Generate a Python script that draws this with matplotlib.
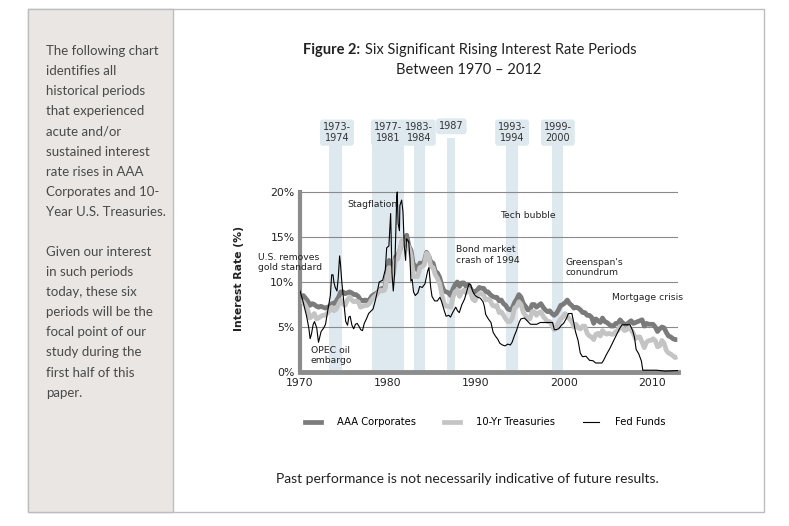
import matplotlib

matplotlib.use("Agg")
import matplotlib.pyplot as plt
import numpy as np
from matplotlib.lines import Line2D
from matplotlib.patches import Rectangle

W, H = 789, 526

# quarterly values, 1970 Q1 .. 2012 Q4, one row per year
aaa_quarterly = [
    [8.3, 8.5, 8.2, 7.9], [7.4, 7.6, 7.5, 7.3], [7.2, 7.3, 7.2, 7.1], [7.2, 7.3, 7.6, 7.6],
    [7.9, 8.3, 8.9, 8.9], [8.7, 8.8, 8.9, 8.8], [8.6, 8.6, 8.4, 8.0], [7.9, 8.0, 7.9, 8.0],
    [8.4, 8.6, 8.7, 8.9], [9.2, 9.3, 9.3, 10.7], [12.4, 11.0, 11.6, 12.8], [13.0, 13.6, 14.6, 14.6],
    [15.2, 14.0, 13.5, 11.9], [11.8, 11.3, 12.1, 12.0], [12.3, 13.3, 12.9, 12.2], [12.1, 11.2, 11.0, 10.5],
    [9.6, 9.0, 8.9, 8.8], [8.5, 9.2, 9.7, 10.0], [9.5, 9.9, 9.9, 9.5], [9.7, 9.3, 8.9, 8.9],
    [9.1, 9.4, 9.3, 9.3], [8.9, 8.9, 8.6, 8.4], [8.3, 8.3, 7.9, 8.0], [7.6, 7.4, 7.0, 6.9],
    [7.1, 7.7, 8.1, 8.6], [8.3, 7.6, 7.3, 6.9], [6.9, 7.5, 7.5, 7.2], [7.4, 7.6, 7.2, 6.9],
    [6.7, 6.8, 6.5, 6.3], [6.5, 6.9, 7.4, 7.5], [7.7, 8.0, 7.6, 7.4], [7.1, 7.2, 7.1, 6.9],
    [6.6, 6.6, 6.3, 6.3], [6.1, 5.4, 5.9, 5.7], [5.5, 6.0, 5.6, 5.5], [5.3, 5.1, 5.1, 5.4],
    [5.4, 5.8, 5.5, 5.3], [5.3, 5.5, 5.7, 5.4], [5.5, 5.6, 5.7, 5.8], [5.1, 5.4, 5.3, 5.3],
    [5.3, 5.0, 4.5, 4.8], [5.0, 4.9, 4.4, 4.0], [3.9, 3.7, 3.6, 3.6],
]
tsy10_quarterly = [
    [7.8, 7.8, 7.4, 6.9], [6.0, 6.2, 6.5, 5.9], [6.0, 6.2, 6.3, 6.3], [6.6, 6.8, 7.2, 6.8],
    [7.0, 7.5, 8.0, 7.6], [7.4, 8.0, 8.3, 8.0], [7.8, 7.9, 7.8, 7.2], [7.3, 7.4, 7.4, 7.6],
    [8.0, 8.3, 8.5, 8.8], [9.1, 9.0, 9.1, 10.4], [11.6, 10.2, 10.9, 12.5], [12.6, 13.7, 14.7, 14.1],
    [14.2, 13.9, 12.9, 10.6], [10.6, 10.6, 11.6, 11.7], [11.9, 13.2, 12.9, 11.7], [11.6, 10.8, 10.4, 9.8],
    [8.6, 7.6, 7.3, 7.3], [7.2, 8.3, 8.9, 9.1], [8.4, 8.9, 9.1, 8.8], [9.2, 8.9, 8.1, 7.9],
    [8.4, 8.7, 8.7, 8.5], [8.0, 8.1, 7.9, 7.4], [7.3, 7.4, 6.6, 6.7], [6.3, 5.9, 5.6, 5.6],
    [6.0, 7.1, 7.3, 7.8], [7.5, 6.6, 6.3, 5.9], [5.9, 6.7, 6.7, 6.3], [6.6, 6.7, 6.2, 5.9],
    [5.6, 5.6, 5.2, 4.7], [5.0, 5.5, 5.9, 6.1], [6.5, 6.2, 5.9, 5.6], [5.0, 5.3, 4.9, 4.8],
    [5.1, 5.1, 4.3, 4.0], [3.9, 3.6, 4.2, 4.3], [4.0, 4.6, 4.3, 4.2], [4.3, 4.2, 4.2, 4.5],
    [4.6, 5.1, 4.9, 4.6], [4.7, 4.9, 4.7, 4.3], [3.7, 3.9, 3.9, 3.3], [2.7, 3.3, 3.5, 3.5],
    [3.7, 3.5, 2.8, 2.9], [3.5, 3.2, 2.4, 2.1], [2.0, 1.8, 1.6, 1.7],
]

# fed funds, irregular dates (year fraction) and rates
ff_dates = [
    1970.0, 1970.3, 1970.5, 1970.75, 1971.0, 1971.15, 1971.3, 1971.5, 1971.65, 1971.9,
    1972.1, 1972.4, 1972.7, 1972.9, 1973.2, 1973.45, 1973.6, 1973.75, 1973.85, 1974.0,
    1974.2, 1974.35, 1974.5, 1974.6, 1974.75, 1974.9, 1975.05, 1975.2, 1975.4, 1975.55,
    1975.7, 1975.9, 1976.1, 1976.3, 1976.5, 1976.75, 1976.9, 1977.1, 1977.3, 1977.55,
    1977.8, 1978.0, 1978.3, 1978.55, 1978.8, 1979.0, 1979.4, 1979.7, 1979.85, 1980.1,
    1980.3, 1980.45, 1980.6, 1980.75, 1980.9, 1981.0, 1981.05, 1981.15, 1981.3, 1981.35,
    1981.55, 1981.7, 1981.85, 1982.0, 1982.1, 1982.35, 1982.5, 1982.6, 1982.75, 1982.9,
    1983.1, 1983.4, 1983.6, 1983.9, 1984.2, 1984.5, 1984.65, 1984.85, 1985.0, 1985.3,
    1985.6, 1985.9, 1986.1, 1986.4, 1986.6, 1986.9, 1987.1, 1987.4, 1987.7, 1987.9,
    1988.1, 1988.4, 1988.7, 1988.9, 1989.2, 1989.4, 1989.6, 1989.9, 1990.2, 1990.5,
    1990.8, 1990.95, 1991.1, 1991.4, 1991.7, 1991.95, 1992.2, 1992.5, 1992.7, 1993.0,
    1993.3, 1993.6, 1993.9, 1994.1, 1994.35, 1994.6, 1994.9, 1995.1, 1995.5, 1995.9,
    1996.2, 1996.6, 1996.9, 1997.3, 1997.8, 1998.3, 1998.7, 1998.9, 1999.1, 1999.4,
    1999.7, 1999.95, 2000.3, 2000.5, 2000.9, 2001.1, 2001.3, 2001.6, 2001.85, 2002.1,
    2002.5, 2002.9, 2003.3, 2003.6, 2004.3, 2004.5, 2004.8, 2005.2, 2005.6, 2005.9,
    2006.3, 2006.6, 2007.5, 2007.8, 2008.0, 2008.2, 2008.5, 2008.8, 2008.95, 2009.5,
    2010.5, 2011.5, 2012.9,
]
ff_rates = [
    9.0, 8.0, 7.2, 6.2, 4.9, 3.7, 4.2, 5.3, 5.6, 4.9,
    3.3, 4.5, 4.9, 5.3, 7.1, 8.5, 10.8, 10.8, 10.0, 9.4,
    9.0, 10.5, 12.9, 12.0, 10.0, 8.5, 7.1, 5.6, 5.2, 6.1,
    6.2, 5.2, 4.8, 5.3, 5.4, 5.0, 4.7, 4.6, 5.4, 5.9,
    6.5, 6.7, 7.0, 7.9, 9.0, 10.0, 10.2, 11.4, 13.8, 14.0,
    17.6, 11.0, 9.0, 10.9, 15.9, 19.5, 20.0, 16.5, 15.7, 18.5,
    19.1, 17.8, 14.0, 12.4, 14.8, 14.5, 12.6, 10.1, 10.3, 8.9,
    8.5, 8.8, 9.5, 9.4, 9.8, 11.2, 11.6, 9.4, 8.4, 7.9,
    7.9, 8.3, 7.8, 6.8, 6.2, 6.3, 6.1, 6.7, 7.2, 6.8,
    6.6, 7.5, 8.1, 8.8, 9.8, 9.7, 9.0, 8.5, 8.3, 8.2,
    7.8, 7.3, 6.4, 5.9, 5.5, 4.4, 4.0, 3.6, 3.2, 3.0,
    2.9, 3.1, 3.0, 3.3, 4.0, 4.6, 5.5, 5.9, 6.0, 5.6,
    5.3, 5.3, 5.3, 5.5, 5.5, 5.5, 5.5, 4.7, 4.7, 4.8,
    5.2, 5.4, 6.0, 6.5, 6.5, 5.5, 4.5, 3.5, 2.1, 1.7,
    1.75, 1.3, 1.25, 1.0, 1.0, 1.3, 1.9, 2.6, 3.4, 4.0,
    4.8, 5.25, 5.25, 4.6, 3.9, 2.5, 2.0, 1.2, 0.2, 0.2,
    0.2, 0.1, 0.16,
]

periods = [(1973.3, 1974.8), (1978.2, 1981.8), (1983.0, 1984.2),
           (1986.7, 1987.6), (1993.4, 1994.8), (1998.6, 1999.9)]
period_labels = ["1973-\n1974", "1977-\n1981", "1983-\n1984", "1987", "1993-\n1994", "1999-\n2000"]
period_label_x = [1974.2, 1980.0, 1983.5, 1987.2, 1994.1, 1999.3]

annotations = [
    ("U.S. removes\ngold standard", 1965.2, 12.2),
    ("Stagflation", 1975.35, 18.6),
    ("Tech bubble", 1992.7, 17.4),
    ("Bond market\ncrash of 1994", 1987.7, 13.0),
    ("Greenspan's\nconundrum", 2000.2, 11.6),
    ("Mortgage crisis", 2005.45, 8.3),
    ("OPEC oil\nembargo", 1971.25, 1.8),
]

side_lines = [
    "The following chart", "identifies all", "historical periods", "that experienced",
    "acute and/or", "sustained interest", "rate rises in AAA", "Corporates and 10-",
    "Year U.S. Treasuries.", "", "Given our interest", "in such periods",
    "today, these six", "periods will be the", "focal point of our", "study during the",
    "first half of this", "paper.",
]

quarters = 1970 + np.arange(len(aaa_quarterly) * 4) / 4.0 + 0.125
aaa = np.array(aaa_quarterly).ravel()
tsy = np.array(tsy10_quarterly).ravel()

BODY = "Lato"
SMALL = "DejaVu Sans"
BAND = "#dde8ef"

fig = plt.figure(figsize=(W / 100, H / 100), dpi=100)


def fx(px):
    return px / W


def fy(py):
    return 1 - py / H


# page frame and side panel
fig.patches.append(Rectangle((fx(28), fy(512)), fx(764 - 28), (512 - 9) / H,
                             transform=fig.transFigure, fill=False,
                             edgecolor="#bdbdbd", linewidth=1))
fig.patches.append(Rectangle((fx(28), fy(512)), fx(173 - 28), (512 - 9) / H,
                             transform=fig.transFigure, facecolor="#e9e6e3",
                             edgecolor="#bdbdbd", linewidth=1))
for i, line in enumerate(side_lines):
    fig.text(fx(46), fy(51 + i * 20.1), line, family=BODY, fontsize=9.5,
             color="#4a4a4a", va="center", ha="left")

# title
fig.text(fx(360), fy(50), "Figure 2:", family=BODY, fontsize=10.5,
         fontweight="bold", color="#222222", ha="right", va="center")
fig.text(fx(365), fy(50), "Six Significant Rising Interest Rate Periods",
         family=BODY, fontsize=10.5, color="#222222", ha="left", va="center")
fig.text(fx(469), fy(70), "Between 1970 \u2013 2012", family=BODY, fontsize=10.5,
         color="#222222", ha="center", va="center")

# plot area: 1970 at x=300, 8.8 px/yr; 0% at y=372, 9 px per point
ymax = 28
ax = fig.add_axes([fx(300), fy(372), fx(43 * 8.8), ymax * 9 / H])
ax.set_xlim(1970, 2013)
ax.set_ylim(0, ymax)
ax.patch.set_alpha(0)

for (a, b) in periods:
    ax.axvspan(a, b, ymin=0, ymax=26.0 / ymax, color=BAND, lw=0, zorder=0)
for lab, x in zip(period_labels, period_label_x):
    yy = 27.3 if "\n" not in lab else 26.6
    ax.text(x, yy, lab, ha="center", va="center", family=SMALL,
            fontsize=7, color="#333333", linespacing=1.05,
            bbox=dict(boxstyle="round,pad=0.3", fc=BAND, ec="none"))

ax.hlines([5, 10, 15, 20], 1970, 2013, colors="#8a8a8a", linewidth=0.8, zorder=1)

ax.plot(quarters, aaa, color="#7b7b7b", linewidth=3.4, zorder=3,
        solid_capstyle="butt", label="AAA Corporates")
ax.plot(quarters, tsy, color="#c4c4c4", linewidth=3.4, zorder=4,
        solid_capstyle="butt", label="10-Yr Treasuries")
ax.plot(ff_dates, ff_rates, color="black", linewidth=0.8, zorder=5, label="Fed Funds")

for text, x, y in annotations:
    ax.text(x, y, text, ha="left", va="center", family=SMALL,
            fontsize=6.7, color="#222222", linespacing=1.15, clip_on=False, zorder=6)

for side in ["top", "right"]:
    ax.spines[side].set_visible(False)
ax.spines["left"].set_bounds(0, 20)
ax.spines["left"].set_linewidth(3)
ax.spines["left"].set_color("#8c8c8c")
ax.spines["bottom"].set_linewidth(3.5)
ax.spines["bottom"].set_color("#8c8c8c")
ax.set_yticks([0, 5, 10, 15, 20])
ax.set_yticklabels([f"{v}%" for v in [0, 5, 10, 15, 20]])
ax.set_xticks([1970, 1980, 1990, 2000, 2010])
ax.tick_params(length=0, labelsize=7.8, pad=4, labelcolor="#222222")
for t in ax.get_xticklabels() + ax.get_yticklabels():
    t.set_family(SMALL)
ax.set_ylabel("Interest Rate (%)", fontsize=7.8, fontweight="bold",
              family=SMALL, color="#222222")
ax.yaxis.set_label_coords(-(300 - 244) / (43 * 8.8), 10.4 / ymax)

handles = [
    Line2D([], [], color="#7b7b7b", linewidth=3.4),
    Line2D([], [], color="#c4c4c4", linewidth=3.4),
    Line2D([], [], color="black", linewidth=0.8),
]
fig.legend(handles, ["AAA Corporates", "10-Yr Treasuries", "Fed Funds"],
           loc="center", bbox_to_anchor=(fx(485), fy(422)), ncol=3,
           frameon=False, handlelength=1.6, handletextpad=1.6, columnspacing=2.8,
           prop={"family": SMALL, "size": 7.2})

fig.text(fx(467), fy(479), "Past performance is not necessarily indicative of future results.",
         family=BODY, fontsize=10, color="#222222", ha="center", va="center")

fig.savefig("out.png", dpi=100)
